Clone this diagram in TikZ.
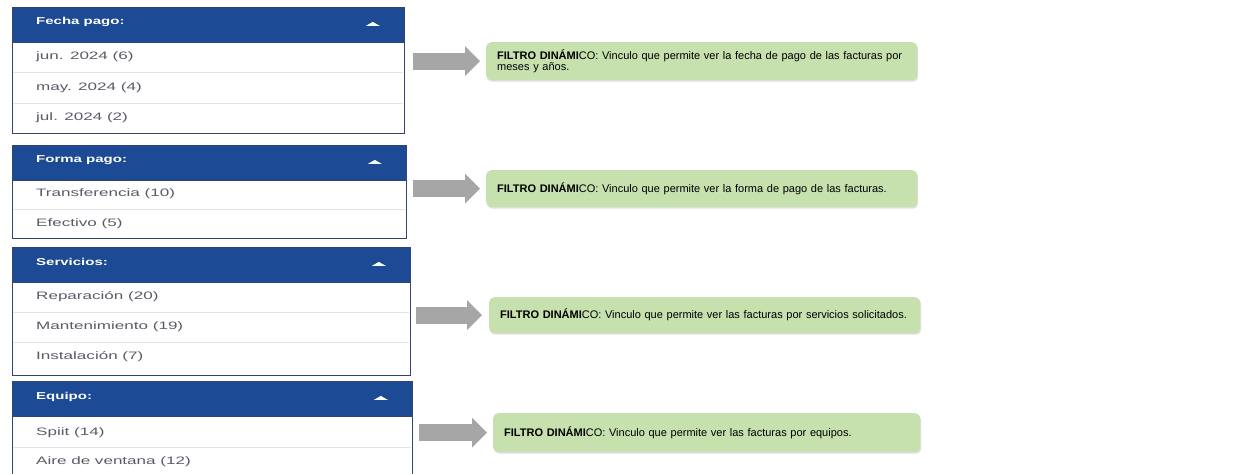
\documentclass[tikz,border=0pt]{standalone}
\usepackage{fontspec}
\setmainfont{Liberation Sans}
\newfontfamily\panelfont[FakeStretch=1.58]{Liberation Sans}
\newfontfamily\hdrfont[FakeStretch=1.5]{Liberation Sans}
\usetikzlibrary{arrows.meta,calc,shadows}
\definecolor{hdrblue}{RGB}{28,74,148}
\definecolor{panelborder}{RGB}{52,68,112}
\definecolor{rowtext}{RGB}{88,92,102}
\definecolor{sepline}{RGB}{228,228,232}
\definecolor{arrowgray}{RGB}{166,166,166}
\definecolor{notegreen}{RGB}{198,224,174}
\newcommand{\filtrolabel}{\textbf{FILTRO DINÁMI}CO:}
\tikzset{
  hdr/.style={draw=panelborder, line width=0.8pt, fill=hdrblue, anchor=north west, minimum height=35pt, inner sep=0pt},
  panelbody/.style={draw=panelborder, line width=1pt, fill=white, anchor=north west, inner sep=0pt},
  hdrtext/.style={anchor=west, text=white, font=\hdrfont\fontsize{10}{12}\selectfont\bfseries, inner sep=0pt},
  rowlabel/.style={anchor=west, text=rowtext, font=\panelfont\fontsize{10.8}{12}\selectfont, inner sep=0pt},
  sep/.style={draw=sepline, line width=0.8pt},
  caret/.style={fill=white},
  bigarrow/.style={draw=arrowgray, line width=17pt, -{Triangle[width=29pt,length=15pt]}},
  note/.style={fill=notegreen, rounded corners=5pt, anchor=north west, align=left, inner xsep=11pt, inner ysep=0pt,
     font=\fontsize{11}{11.5}\selectfont, text=black,
     drop shadow={opacity=0.25, shadow xshift=1pt, shadow yshift=-1.5pt}}
}
\begin{document}
\begin{tikzpicture}[x=1pt,y=-1pt]
\useasboundingbox (0,0) rectangle (1254,474);

% ---------- Panel 1 ----------
\node[panelbody, minimum width=392pt, minimum height=91pt] (b1) at (12,42) {};
\node[hdr, minimum width=392pt] (h1) at (12,7) {};
\node[hdrtext] (h1t) at (36,22) {Fecha pago:};
\fill[caret] ($(h1.east)+(-39,1)$) -- ++(14,0) -- ++(-7,-4) -- cycle;
\draw[sep] (13,72) -- (403,72);
\draw[sep] (13,103) -- (403,103);
\node[rowlabel] (r11) at (36,57) {jun. 2024 (6)};
\node[rowlabel] (r12) at (36,88) {may. 2024 (4)};
\node[rowlabel] (r13) at (36,118) {jul. 2024 (2)};

% ---------- Panel 2 ----------
\node[panelbody, minimum width=394pt, minimum height=58pt] (b2) at (12,180) {};
\node[hdr, minimum width=394pt] (h2) at (12,145) {};
\node[hdrtext] (h2t) at (36,160) {Forma pago:};
\fill[caret] ($(h2.east)+(-39,1)$) -- ++(14,0) -- ++(-7,-4) -- cycle;
\draw[sep] (13,209) -- (405,209);
\node[rowlabel] (r21) at (36,194) {Transferencia (10)};
\node[rowlabel] (r22) at (36,224) {Efectivo (5)};

% ---------- Panel 3 ----------
\node[panelbody, minimum width=398pt, minimum height=93pt] (b3) at (12,282) {};
\node[hdr, minimum width=398pt] (h3) at (12,247) {};
\node[hdrtext] (h3t) at (36,262) {Servicios:};
\fill[caret] ($(h3.east)+(-39,1)$) -- ++(14,0) -- ++(-7,-4) -- cycle;
\draw[sep] (13,312) -- (409,312);
\draw[sep] (13,342) -- (409,342);
\node[rowlabel] (r31) at (36,297) {Reparación (20)};
\node[rowlabel] (r32) at (36,327) {Mantenimiento (19)};
\node[rowlabel] (r33) at (36,357) {Instalación (7)};

% ---------- Panel 4 ----------
\node[panelbody, minimum width=400pt, minimum height=62pt] (b4) at (12,416) {};
\node[hdr, minimum width=400pt] (h4) at (12,381) {};
\node[hdrtext] (h4t) at (36,397) {Equipo:};
\fill[caret] ($(h4.east)+(-39,1)$) -- ++(14,0) -- ++(-7,-4) -- cycle;
\draw[sep] (13,447) -- (411,447);
\node[rowlabel] (r41) at (36,433) {Spiit (14)};
\node[rowlabel] (r42) at (36,462) {Aire de ventana (12)};

% ---------- Notes ----------
\node[note, minimum width=431pt, minimum height=38pt, text width=409pt] (n1) at (486,42)
  {\filtrolabel{} Vinculo que permite ver la fecha de pago de las facturas por\\meses y años.};
\node[note, minimum width=431pt, minimum height=37pt, text width=409pt] (n2) at (486,170)
  {\filtrolabel{} Vinculo que permite ver la forma de pago de las facturas.};
\node[note, minimum width=431pt, minimum height=36pt, text width=409pt] (n3) at (489,297)
  {\filtrolabel{} Vinculo que permite ver las facturas por servicios solicitados.};
\node[note, minimum width=427pt, minimum height=39pt, text width=405pt] (n4) at (493,413)
  {\filtrolabel{} Vinculo que permite ver las facturas por equipos.};

% ---------- Arrows ----------
\draw[bigarrow] ([xshift=8pt]n1.west -| b1.east) -- ([xshift=-6pt]n1.west);
\draw[bigarrow] ([xshift=6pt]n2.west -| b2.east) -- ([xshift=-6pt]n2.west);
\draw[bigarrow] ([xshift=5pt]n3.west -| b3.east) -- ([xshift=-7pt]n3.west);
\draw[bigarrow] ([xshift=6pt]n4.west -| b4.east) -- ([xshift=-6pt]n4.west);
\end{tikzpicture}
\end{document}
